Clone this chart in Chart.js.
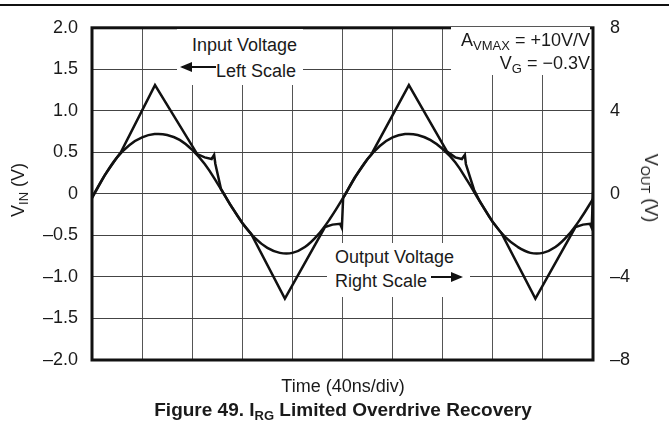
<!DOCTYPE html>
<html>
<head>
<meta charset="utf-8">
<script src="https://cdn.jsdelivr.net/npm/chart.js@4.4.1/dist/chart.umd.min.js"></script>
<style>
	body { margin: 0; background: #fff; }
	#wrap { position: relative; width: 669px; height: 435px; font-family: "Liberation Sans", Arial, Helvetica, sans-serif; color: #1a1a1a; }
	#chart { position: absolute; left: 0; top: 0; }
	.txt { position: absolute; white-space: nowrap; font-size: 18px; line-height: 1; }
	.box { position: absolute; background: #fff; }
	sub { font-size: 13px; vertical-align: -4px; line-height: 0; }
	#topRule { position: absolute; left: 0; top: 4px; width: 669px; height: 2px; background: #111; }
</style>
</head>
<body>
<div id="wrap">
	<canvas id="chart" width="669" height="435"></canvas>
	<div id="topRule"></div>
	<!-- annotation boxes hide the grid behind the text -->
	<div class="box" style="left:177px; top:29px; width:126px; height:56px;"></div>
	<div class="txt" style="left:192px; top:36px;">Input Voltage</div>
	<div class="txt" style="left:182px; top:62px;"><span style="display:inline-block; width:34px; position:relative; top:-5px; height:2px; background:#111; vertical-align:middle;"><span style="position:absolute; left:-2px; top:-4px; border-right:12px solid #111; border-top:5px solid transparent; border-bottom:5px solid transparent;"></span></span>Left Scale</div>

	<div class="box" style="left:451px; top:27px; width:139px; height:48px;"></div>
	<div class="txt" style="right:79px; top:31px;">A<sub>VMAX</sub> = +10V/V</div>
	<div class="txt" style="right:79px; top:54px;">V<sub>G</sub> = &minus;0.3V</div>

	<div class="box" style="left:327px; top:243px; width:143px; height:54px;"></div>
	<div class="txt" style="left:335px; top:248px;">Output Voltage</div>
	<div class="txt" style="left:335px; top:272px;">Right Scale<span style="display:inline-block; width:30px; margin-left:4px; position:relative; top:-5px; height:2px; background:#111; vertical-align:middle;"><span style="position:absolute; right:-2px; top:-4px; border-left:12px solid #111; border-top:5px solid transparent; border-bottom:5px solid transparent;"></span></span></div>

	<div class="txt" style="left:18px; top:190px; transform:translate(-50%,-50%) rotate(-90deg);">V<sub>IN</sub> (V)</div>
	<div class="txt" style="left:651px; top:188px; transform:translate(-50%,-50%) rotate(90deg);">V<sub>OUT</sub> (V)</div>
	<div class="txt" style="left:343px; top:377px; transform:translateX(-50%);">Time (40ns/div)</div>
	<div class="txt" style="left:343px; top:400px; transform:translateX(-50%); font-weight:bold; font-size:19px;">Figure 49. I<sub>RG</sub> Limited Overdrive Recovery</div>
</div>
<script>
// time axis in ns (40ns/div, 10 div)
var timeTicks = [0, 40, 80, 120, 160, 200, 240, 280, 320, 360, 400];
var vinTicks = ["2.0", "1.5", "1.0", "0.5", "0", "\u20130.5", "\u20131.0", "\u20131.5", "\u20132.0"];
var voutTicks = ["8", "4", "0", "\u20134", "\u20138"];

// input voltage (left scale, V)
var vinTime = [0, 10, 20, 30, 40, 50, 60, 70, 80, 90, 100, 110, 120, 130, 140, 150, 160, 170, 180, 190, 200,
	210, 220, 230, 240, 250, 260, 270, 280, 290, 300, 310, 320, 330, 340, 350, 360, 370, 380, 390, 400];
var vinValues = [-0.04, 0.22, 0.44, 0.59, 0.68, 0.72, 0.71, 0.65, 0.53, 0.36, 0.13, -0.12, -0.35, -0.53, -0.65, -0.71, -0.71, -0.64, -0.5, -0.3, -0.06,
	0.2, 0.42, 0.58, 0.68, 0.72, 0.71, 0.65, 0.54, 0.38, 0.15, -0.1, -0.34, -0.52, -0.64, -0.71, -0.71, -0.64, -0.5, -0.3, -0.06];

// output voltage (right scale, V)
var voutTime = [0, 10, 20, 23, 50.3, 84, 90, 95.5, 97.5, 98.5, 103, 110, 120, 127, 154,
	186, 192, 198, 199.5, 200.5, 210, 220, 223, 253,
	283.5, 290, 295.3, 297.7, 298.5, 305, 310, 320, 327, 354,
	386, 392, 397.5, 399, 400];
var voutValues = [-0.2, 0.88, 1.76, 2.0, 5.24, 1.92, 1.76, 1.68, 1.88, 1.44, 0.24, -0.48, -1.4, -1.92, -5.04,
	-1.6, -1.48, -1.44, -1.64, -0.2, 0.8, 1.68, 1.9, 5.24,
	2.04, 1.76, 1.68, 1.88, 1.44, 0.2, -0.4, -1.36, -1.9, -5.04,
	-1.6, -1.48, -1.44, -1.64, 0.1];

function toPoints(xs, ys) {
	var pts = [];
	for (var i = 0; i < xs.length; i++) {
		pts.push({x: xs[i], y: ys[i]});
	}
	return pts;
}

var frame = {
	id: "frame",
	afterDraw: function(chart) {
		var a = chart.chartArea, ctx = chart.ctx;
		ctx.save();
		ctx.strokeStyle = "#111";
		ctx.lineWidth = 3;
		ctx.strokeRect(a.left, a.top, a.right - a.left, a.bottom - a.top);
		ctx.restore();
	}
};

var tickFont = {family: "'Liberation Sans', Arial, sans-serif", size: 18};

new Chart(document.getElementById("chart").getContext("2d"), {
	type: "line",
	data: {
		datasets: [
			{
				label: "Input Voltage",
				data: toPoints(vinTime, vinValues),
				yAxisID: "y",
				borderColor: "#111",
				borderWidth: 2.5,
				pointRadius: 0,
				tension: 0.4,
				fill: false
			},
			{
				label: "Output Voltage",
				data: toPoints(voutTime, voutValues),
				yAxisID: "y2",
				borderColor: "#111",
				borderWidth: 2.5,
				pointRadius: 0,
				tension: 0,
				fill: false
			}
		]
	},
	options: {
		responsive: false,
		animation: false,
		layout: {padding: {top: 21, left: 0, right: 0, bottom: 0}},
		plugins: {legend: {display: false}, tooltip: {enabled: false}},
		scales: {
			x: {
				type: "linear",
				min: 0, max: 400,
				afterBuildTicks: function(scale) { scale.ticks = timeTicks.map(function(v){ return {value: v}; }); },
				ticks: {display: false},
				grid: {color: "#555", lineWidth: 1, drawTicks: false},
				border: {display: false},
				afterFit: function(scale) { scale.height = 75; }
			},
			y: {
				position: "left",
				min: -2, max: 2,
				ticks: {
					stepSize: 0.5,
					padding: 14,
					color: "#1a1a1a",
					font: tickFont,
					callback: function(v, i) { return vinTicks[vinTicks.length - 1 - i]; }
				},
				grid: {color: "#444", lineWidth: 1, drawTicks: false},
				border: {display: false},
				afterFit: function(scale) { scale.width = 92; }
			},
			y2: {
				position: "right",
				min: -8, max: 8,
				ticks: {
					stepSize: 4,
					padding: 17,
					color: "#1a1a1a",
					font: tickFont,
					callback: function(v, i) { return voutTicks[voutTicks.length - 1 - i]; }
				},
				grid: {display: false, drawTicks: false},
				border: {display: false},
				afterFit: function(scale) { scale.width = 76; }
			}
		}
	},
	plugins: [frame]
});
</script>
</body>
</html>
